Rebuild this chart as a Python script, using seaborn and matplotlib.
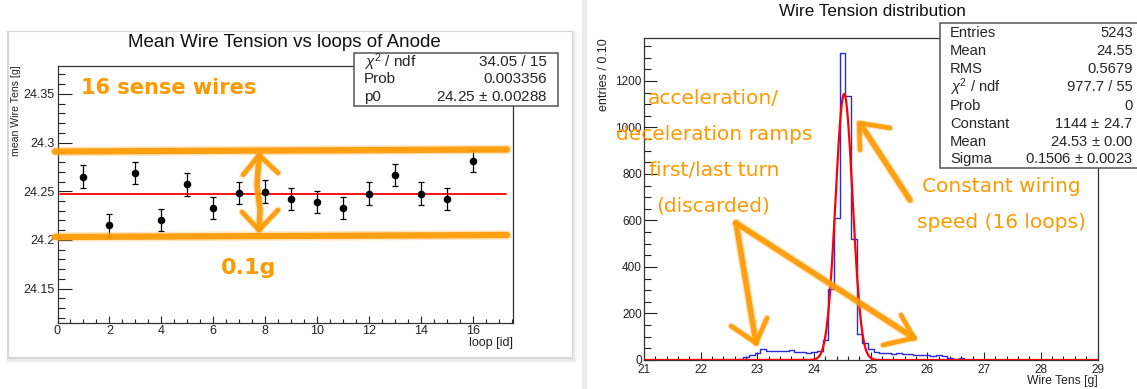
import numpy as np
import pandas as pd
import matplotlib
matplotlib.use("Agg")
import matplotlib.pyplot as plt
from matplotlib.patches import Rectangle
from matplotlib.lines import Line2D
from matplotlib.ticker import MultipleLocator, FixedLocator
import seaborn as sns

# ─────────────────────────────────────────────
# Data
# ─────────────────────────────────────────────
# left: mean wire tension per loop (TGraphErrors + pol0 fit)
loops = list(range(1, 17))
mean_tension = [24.2650, 24.2150, 24.2690, 24.2205, 24.2570, 24.2330,
                24.2486, 24.2497, 24.2421, 24.2387, 24.2328, 24.2476,
                24.2668, 24.2476, 24.2421, 24.2809]
tension_err = [0.0117, 0.0115, 0.0115, 0.0116, 0.0114, 0.0115, 0.0114, 0.0115,
               0.0115, 0.0114, 0.0116, 0.0115, 0.0115, 0.0115, 0.0114, 0.0112]
p0_fit = 24.2476

# right: wire tension histogram, 0.1 g bins (first bin centre 22.6)
first_center = 22.6
bin_width = 0.1
bin_counts = [2, 5, 12, 20, 32, 47, 40, 39, 40, 39,
              42, 36, 33, 31, 35, 40, 88, 305, 612, 1320,
              1135, 520, 110, 72, 47, 33, 31, 28, 27, 28,
              24, 26, 23, 22, 23, 18, 20, 16, 9, 6, 8]
gaus_const, gaus_mean, gaus_sigma = 1144.0, 24.53, 0.1506

left_stats = [("$\\chi^{2}$ / ndf", "34.05 / 15"),
              ("Prob", "0.003356"),
              ("p0", "24.25 $\\pm$ 0.00288")]
right_stats = [("Entries", "5243"), ("Mean", "24.55"), ("RMS", "0.5679"),
               ("$\\chi^{2}$ / ndf", "977.7 / 55"), ("Prob", "0"),
               ("Constant", "1144 $\\pm$ 24.7"), ("Mean", "24.53 $\\pm$ 0.00"),
               ("Sigma", "0.1506 $\\pm$ 0.0023")]

ORANGE = "#FF9900"
W, H = 1137, 389

sns.set_theme(style="white")
plt.rcParams["font.family"] = ["Liberation Sans", "DejaVu Sans"]
plt.rcParams["mathtext.fontset"] = "custom"
plt.rcParams["mathtext.rm"] = "Liberation Sans"
plt.rcParams["mathtext.it"] = "Liberation Sans:italic"


def fx(px):
    return px / W


def fy(py):
    return 1 - py / H


fig = plt.figure(figsize=(W / 100, H / 100), dpi=100, facecolor="white")

# left panel frame with a soft drop shadow
for off, a in [(6, 0.05), (4, 0.08), (2, 0.12)]:
    fig.add_artist(Rectangle((fx(8 - 1), fy(357 + off)), fx(564 + off), fy(31) - fy(357 + off),
                             transform=fig.transFigure, color="#555555", alpha=a, lw=0, zorder=-3))
fig.add_artist(Rectangle((fx(8), fy(357)), fx(564), fy(31) - fy(357), transform=fig.transFigure,
                         facecolor="white", edgecolor="#d6d6d6", lw=0.8, zorder=-2))
# divider between the two screenshots
fig.add_artist(Rectangle((fx(582), 0), fx(5), 1, transform=fig.transFigure,
                         color="#ebebeb", lw=0, zorder=-2))

ax1 = fig.add_axes([fx(57.5), fy(322.7), fx(512.7 - 57.5), fy(65.7) - fy(322.7)])
ax2 = fig.add_axes([fx(644), fy(360), fx(1097.5 - 644), fy(37.7) - fy(360)])

# ─────────────────────────────────────────────
# LEFT — mean tension vs loop
# ─────────────────────────────────────────────
ax1.errorbar(loops, mean_tension, yerr=tension_err, fmt="none", ecolor="black",
             elinewidth=0.9, capsize=2, capthick=0.9, zorder=3)
sns.scatterplot(x=loops, y=mean_tension, ax=ax1, color="black", s=30,
                edgecolor="black", linewidth=0, zorder=4)
ax1.axhline(p0_fit, xmin=0.005, xmax=0.985, color="red", lw=1.3, zorder=2)

ax1.set_xlim(0, 17.54)
ax1.set_ylim(24.115, 24.379)
ax1.xaxis.set_major_locator(FixedLocator(range(0, 17, 2)))
ax1.xaxis.set_minor_locator(MultipleLocator(0.5))
ax1.yaxis.set_major_locator(FixedLocator([24.15, 24.2, 24.25, 24.3, 24.35]))
ax1.yaxis.set_minor_locator(MultipleLocator(0.01))
ax1.set_yticklabels(["24.15", "24.2", "24.25", "24.3", "24.35"])
ax1.tick_params(axis="x", which="major", length=5, pad=1.5)
ax1.tick_params(axis="x", which="minor", length=2.8)
ax1.tick_params(axis="y", which="major", length=10, pad=2)
ax1.tick_params(axis="y", which="minor", length=5)

# ─────────────────────────────────────────────
# RIGHT — tension distribution with gaussian fit
# ─────────────────────────────────────────────
n_bins = len(bin_counts)
hist_df = pd.DataFrame({
    "tension": first_center + bin_width * np.arange(n_bins),
    "count": bin_counts,
})
edges = list(first_center - bin_width / 2 + bin_width * np.arange(n_bins + 1))
sns.histplot(data=hist_df, x="tension", weights="count", bins=edges, element="step",
             fill=False, color="#2b2bd6", linewidth=1.0, ax=ax2, zorder=2)
xs = np.linspace(21, 29, 1601)
ys = gaus_const * np.exp(-0.5 * ((xs - gaus_mean) / gaus_sigma) ** 2)
sns.lineplot(x=xs, y=ys, color="red", linewidth=1.6, ax=ax2, zorder=3)

ax2.set_xlim(21, 29)
ax2.set_ylim(0, 1386)
ax2.xaxis.set_major_locator(MultipleLocator(1))
ax2.xaxis.set_minor_locator(MultipleLocator(0.2))
ax2.yaxis.set_major_locator(FixedLocator([0, 200, 400, 600, 800, 1000, 1200]))
ax2.yaxis.set_minor_locator(MultipleLocator(50))
ax2.tick_params(axis="x", which="major", length=5.8, pad=3)
ax2.tick_params(axis="x", which="minor", length=2.9)
ax2.tick_params(axis="y", which="major", length=9.4, pad=1.5)
ax2.tick_params(axis="y", which="minor", length=4.7)

for ax, size in [(ax1, 9), (ax2, 8.5)]:
    ax.set_xlabel("")
    ax.set_ylabel("")
    ax.set_facecolor("white")
    ax.tick_params(which="both", direction="in", top=False, right=False,
                   bottom=True, left=True, colors="#222222", width=0.8, labelsize=size)
    for sp in ax.spines.values():
        sp.set_color("#333333")
        sp.set_linewidth(0.9)

# titles and axis titles (ROOT places them at the axis ends)
fig.text(fx(284.7), fy(42.7), "Mean Wire Tension vs loops of Anode", ha="center", va="center",
         fontsize=13.5, color="#111111")
fig.text(fx(872), fy(11), "Wire Tension distribution", ha="center", va="center",
         fontsize=12.3, color="#111111")
fig.text(fx(16), fy(65), "mean Wire Tens [g]", rotation=90, ha="center", va="top",
         fontsize=7.6, color="#222222")
fig.text(fx(604), fy(38), "entries / 0.10", rotation=90, ha="center", va="top",
         fontsize=9, color="#222222")
fig.text(fx(512.7), fy(343), "loop [id]", ha="right", va="center", fontsize=9, color="#222222")
fig.text(fx(1098), fy(381), "Wire Tens [g]", ha="right", va="center", fontsize=8.7,
         color="#222222")

# stats boxes
fig.add_artist(Rectangle((fx(353.5), fy(106)), fx(558 - 353.5), fy(53.3) - fy(106),
                         transform=fig.transFigure, facecolor="white", edgecolor="#555555",
                         lw=1.1, zorder=5))
for (lab, val), yy in zip(left_stats, [62.3, 79.3, 96.7]):
    fig.text(fx(364), fy(yy), lab, ha="left", va="center", fontsize=11, zorder=6)
    fig.text(fx(547), fy(yy), val, ha="right", va="center", fontsize=11, zorder=6)

fig.add_artist(Rectangle((fx(939.6), fy(168.3)), fx(1150 - 939.6), fy(23.3) - fy(168.3),
                         transform=fig.transFigure, facecolor="white", edgecolor="#555555",
                         lw=1.1, zorder=5))
for (lab, val), yy in zip(right_stats, [33, 51, 69, 87.3, 106, 124, 141.7, 159.3]):
    fig.text(fx(950), fy(yy), lab, ha="left", va="center", fontsize=10.6, zorder=6)
    fig.text(fx(1133), fy(yy), val, ha="right", va="center", fontsize=10.6, zorder=6)


# ─────────────────────────────────────────────
# hand-drawn orange annotations
# ─────────────────────────────────────────────
def stroke(pts, lw):
    xs_ = [fx(p[0]) for p in pts]
    ys_ = [fy(p[1]) for p in pts]
    fig.add_artist(Line2D(xs_, ys_, transform=fig.transFigure, color="#FFB347", lw=lw * 1.5,
                          alpha=0.35, solid_capstyle="round", solid_joinstyle="round", zorder=10))
    fig.add_artist(Line2D(xs_, ys_, transform=fig.transFigure, color=ORANGE, lw=lw,
                          alpha=0.9, solid_capstyle="round", solid_joinstyle="round", zorder=10))


# left: 0.1 g band
stroke([(55, 151.5), (507, 149.5)], 4.5)
stroke([(55, 237), (507, 235)], 4.5)
stroke([(259, 156), (257, 185), (260, 210), (259, 229)], 4)
stroke([(243, 175), (259, 155), (278, 173)], 3.3)
stroke([(242, 212), (259, 230), (278, 210)], 3.3)
fig.text(fx(81), fy(88), "16 sense wires", ha="left", va="center", fontsize=15,
         fontweight="bold", color=ORANGE, family="DejaVu Sans", zorder=11)
fig.text(fx(249), fy(268), "0.1g", ha="center", va="center", fontsize=16,
         fontweight="bold", color=ORANGE, family="DejaVu Sans", zorder=11)

# right: arrows and notes
stroke([(910, 200), (861, 125)], 4)
stroke([(890, 128), (859, 123), (860, 150)], 3.3)
stroke([(736, 223), (756, 343)], 4)
stroke([(731, 326), (756, 343), (767, 318)], 3.3)
stroke([(736, 223), (914, 338)], 4)
stroke([(883, 345), (914, 338), (901, 315)], 3.3)

notes = [("acceleration/", 713.5, 98), ("deceleration ramps", 714, 135),
         ("first/last turn", 714, 170), ("(discarded)", 713.5, 206),
         ("Constant wiring", 1001, 187), ("speed (16 loops)", 1001.5, 222)]
for txt, x, y in notes:
    fig.text(fx(x), fy(y), txt, ha="center", va="center", fontsize=14.5, color=ORANGE,
             family="DejaVu Sans", zorder=11)

fig.savefig("out.png", dpi=100, facecolor="white")
